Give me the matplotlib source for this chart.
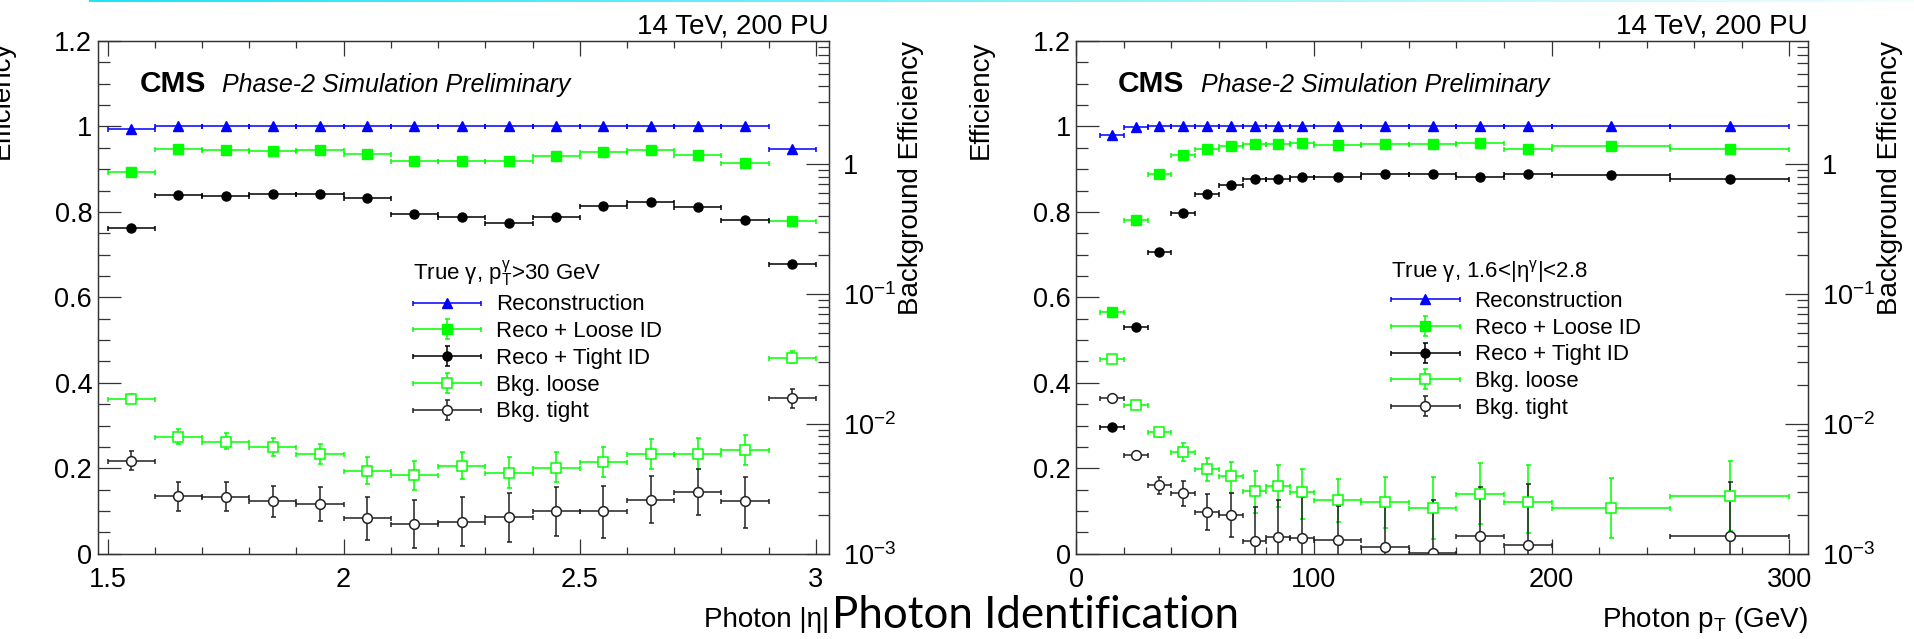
import numpy as np
import matplotlib
matplotlib.use('Agg')
import matplotlib.pyplot as plt
from matplotlib.ticker import MultipleLocator, FixedLocator, FuncFormatter, LogLocator, NullFormatter
from matplotlib.legend_handler import HandlerErrorbar
from matplotlib.container import ErrorbarContainer

plt.rcParams['font.family'] = ['Liberation Sans', 'DejaVu Sans']
plt.rcParams['mathtext.fontset'] = 'custom'
plt.rcParams['mathtext.rm'] = 'Liberation Sans'
plt.rcParams['mathtext.it'] = 'Liberation Sans:italic'
plt.rcParams['mathtext.default'] = 'regular'

# ---- left panel: vs |eta| ----
eta_edges = [1.5, 1.6, 1.7, 1.8, 1.9, 2.0, 2.1, 2.2, 2.3, 2.4, 2.5, 2.6, 2.7, 2.8, 2.9, 3.0]
eta_reco = [0.993, 1.0, 1.0, 1.0, 1.0, 1.0, 1.0, 1.0, 1.0, 1.0, 1.0, 1.0, 1.0, 1.0, 0.948]
eta_loose = [0.894, 0.948, 0.946, 0.942, 0.944, 0.936, 0.918, 0.918, 0.920, 0.931, 0.941, 0.945, 0.933, 0.915, 0.778]
eta_loose_err = [0.004, 0.004, 0.004, 0.004, 0.004, 0.004, 0.004, 0.004, 0.004, 0.004, 0.004, 0.004, 0.004, 0.004, 0.005]
eta_tight = [0.763, 0.839, 0.837, 0.842, 0.843, 0.833, 0.796, 0.787, 0.773, 0.789, 0.814, 0.823, 0.812, 0.782, 0.678]
eta_tight_err = [0.004, 0.004, 0.004, 0.004, 0.004, 0.004, 0.004, 0.004, 0.004, 0.004, 0.004, 0.004, 0.004, 0.004, 0.005]
eta_bkg_loose = [0.0156, 0.00798, 0.00731, 0.00665, 0.00588, 0.0043, 0.00407, 0.00478, 0.00422, 0.00459, 0.00508, 0.00588, 0.00588, 0.00634, 0.0324]
eta_bkg_loose_hi = [0.0170, 0.00921, 0.00848, 0.00785, 0.00706, 0.00554, 0.00519, 0.00612, 0.00554, 0.00612, 0.00665, 0.00762, 0.00782, 0.00828, 0.0367]
eta_bkg_loose_lo = [0.0144, 0.00702, 0.00638, 0.00567, 0.0049, 0.00344, 0.0031, 0.00375, 0.00318, 0.00354, 0.00389, 0.00451, 0.00449, 0.00486, 0.0293]
eta_bkg_tight = [0.00519, 0.00276, 0.00275, 0.00253, 0.00243, 0.00188, 0.0017, 0.00175, 0.00193, 0.00212, 0.00212, 0.0026, 0.003, 0.00254, 0.0158]
eta_bkg_tight_hi = [0.00623, 0.00354, 0.00354, 0.00332, 0.00324, 0.00271, 0.0026, 0.00271, 0.00293, 0.00324, 0.0033, 0.00398, 0.00449, 0.00389, 0.0187]
eta_bkg_tight_lo = [0.00438, 0.00215, 0.00213, 0.00191, 0.0018, 0.00128, 0.0011, 0.00115, 0.00124, 0.00137, 0.00132, 0.00172, 0.002, 0.00157, 0.0132]

# ---- right panel: vs pT ----
pt_edges = [10, 20, 30, 40, 50, 60, 70, 80, 90, 100, 120, 140, 160, 180, 200, 250, 300]
pt_reco = [0.979, 0.998, 1.0, 1.0, 1.0, 1.0, 1.0, 1.0, 1.0, 1.0, 1.0, 1.0, 1.0, 1.0, 1.0, 1.0]
pt_loose = [0.566, 0.781, 0.889, 0.934, 0.948, 0.955, 0.958, 0.959, 0.961, 0.957, 0.958, 0.958, 0.961, 0.948, 0.954, 0.947]
pt_loose_err = [0.006, 0.006, 0.005, 0.004, 0.004, 0.004, 0.004, 0.004, 0.004, 0.003, 0.003, 0.003, 0.003, 0.003, 0.003, 0.003]
pt_tight = [0.296, 0.530, 0.706, 0.798, 0.841, 0.863, 0.876, 0.876, 0.881, 0.881, 0.889, 0.889, 0.881, 0.889, 0.887, 0.876]
pt_tight_err = [0.006, 0.006, 0.005, 0.005, 0.004, 0.004, 0.004, 0.004, 0.004, 0.003, 0.003, 0.003, 0.003, 0.003, 0.003, 0.003]
pt_bkg_loose = [0.0318, 0.01407, 0.00863, 0.00612, 0.00453, 0.00398, 0.00305, 0.00334, 0.00298, 0.00257, 0.00251, 0.00226, 0.00288, 0.0025, 0.00225, 0.00279]
pt_bkg_loose_hi = [0.034, 0.0151, 0.00938, 0.0071, 0.00545, 0.00507, 0.0043, 0.00481, 0.00451, 0.00375, 0.00393, 0.00393, 0.00499, 0.00484, 0.00382, 0.00519]
pt_bkg_loose_lo = [0.0296, 0.01304, 0.00791, 0.00522, 0.00365, 0.00296, 0.00206, 0.00229, 0.00186, 0.00175, 0.00157, 0.0013, 0.0017, 0.00144, 0.00132, 0.0015]
pt_bkg_tight = [0.0158, 0.00574, 0.00337, 0.00291, 0.0021, 0.002, 0.00126, 0.00134, 0.00131, 0.00128, 0.00112, 0.00102, 0.00137, 0.00117, np.nan, 0.00137]
pt_bkg_tight_hi = [0.0165, 0.006, 0.00393, 0.0036, 0.00289, 0.00296, 0.00229, 0.0026, 0.00271, 0.00232, 0.00234, 0.0026, 0.00326, 0.00344, np.nan, 0.00354]
pt_bkg_tight_lo = [0.015, 0.0055, 0.00288, 0.00234, 0.00153, 0.00134, 0.0008, 0.0008, 0.0008, 0.0008, 0.0008, 0.0008, 0.0008, 0.0008, np.nan, 0.0008]

labels = ['Reconstruction', 'Reco + Loose ID', 'Reco + Tight ID', 'Bkg. loose', 'Bkg. tight']

BLUE = '#0000ff'
GREEN = '#00ff00'
BLACK = '#000000'
AXCOL = '#333333'

W, H = 1915, 639
fig = plt.figure(figsize=(W / 100, H / 100), dpi=100)

# thin cyan line at the top of the slide
strip = fig.add_axes([89 / W, 1 - 2 / H, 1 - 89 / W, 2 / H])
grad = np.zeros((1, 256, 4))
grad[0, :, 0] = 0.1
grad[0, :, 1] = 0.9
grad[0, :, 2] = 0.96
grad[0, :, 3] = np.linspace(1.0, 0.05, 256)
strip.imshow(grad, aspect='auto', extent=[0, 1, 0, 1])
strip.axis('off')

ekw = dict(linestyle='none', lw=1.1, elinewidth=1.1, capsize=1.8, capthick=1.1)


class FixedLabels(FuncFormatter):
    def __init__(self):
        names = {-3: '$10^{-3}$', -2: '$10^{-2}$', -1: '$10^{-1}$', 0: '1'}
        super().__init__(lambda v, p: names.get(int(round(np.log10(v))), ''))


def draw_panel(rect, edges, reco, loose, loose_err, tight, tight_err,
               bl, bl_hi, bl_lo, bt, bt_hi, bt_lo, xlim, xmajor, xminor,
               xlabel, header):
    edges = np.array(edges, dtype=float)
    x = 0.5 * (edges[:-1] + edges[1:])
    xe = 0.5 * (edges[1:] - edges[:-1])

    ax = fig.add_axes(rect)
    ax2 = ax.twinx()

    h1 = ax.errorbar(x, reco, xerr=xe, fmt='^', color=BLUE, ms=6.5, **ekw)
    h2 = ax.errorbar(x, loose, xerr=xe, yerr=loose_err, fmt='s', color=GREEN, ms=6.5, **ekw)
    h3 = ax.errorbar(x, tight, xerr=xe, yerr=tight_err, fmt='o', color=BLACK, ms=6.5, **ekw)

    bl = np.array(bl); bt = np.array(bt)
    el = [bl - np.array(bl_lo), np.array(bl_hi) - bl]
    et = [bt - np.array(bt_lo), np.array(bt_hi) - bt]
    h4 = ax2.errorbar(x, bl, xerr=xe, yerr=el, fmt='s', color=GREEN, mfc='white',
                      mec=GREEN, mew=1.1, ms=7, **ekw)
    h5 = ax2.errorbar(x, bt, xerr=xe, yerr=et, fmt='o', color='#222222', mfc='white',
                      mec='#222222', mew=1.1, ms=7, **ekw)

    ax.set_xlim(*xlim)
    ax.set_ylim(0, 1.2)
    ax2.set_yscale('log')
    ax2.set_ylim(1e-3, 8.91)

    ax.xaxis.set_major_locator(MultipleLocator(xmajor))
    ax.xaxis.set_minor_locator(MultipleLocator(xminor))
    ax.yaxis.set_major_locator(MultipleLocator(0.2))
    ax.yaxis.set_minor_locator(MultipleLocator(0.05))
    ax.xaxis.set_major_formatter(FuncFormatter(lambda v, p: '%g' % round(v, 3)))
    ax.yaxis.set_major_formatter(FuncFormatter(lambda v, p: '%g' % round(v, 3)))

    ax2.yaxis.set_major_locator(FixedLocator([1e-3, 1e-2, 1e-1, 1]))
    ax2.yaxis.set_major_formatter(FixedLabels())
    ax2.yaxis.set_minor_locator(LogLocator(base=10, subs=np.arange(2, 10)))
    ax2.yaxis.set_minor_formatter(NullFormatter())

    for a in (ax, ax2):
        for s in a.spines.values():
            s.set_color(AXCOL)
            s.set_linewidth(0.9)
    ax.tick_params(axis='x', which='major', direction='in', length=10.5, width=0.9,
                   top=True, bottom=True, color=AXCOL, labelsize=19.5, pad=9.4)
    ax.tick_params(axis='x', which='minor', direction='in', length=5, width=0.9,
                   top=True, bottom=True, color=AXCOL)
    ax.tick_params(axis='y', which='major', direction='in', length=16.5, width=0.9,
                   left=True, right=False, color=AXCOL, labelsize=19.5, pad=4)
    ax.tick_params(axis='y', which='minor', direction='in', length=8.4, width=0.9,
                   left=True, right=False, color=AXCOL)
    ax2.tick_params(axis='y', which='major', direction='in', length=16.5, width=0.9,
                    color=AXCOL, labelsize=19.5, pad=10)
    ax2.tick_params(axis='y', which='minor', direction='in', length=8, width=0.9,
                    color=AXCOL)

    axw = rect[2] * W
    axh = rect[3] * H
    ax.set_xlabel(xlabel, loc='right', fontsize=20)
    ax.xaxis.set_label_coords(1.0, -73.3 / axh)
    ax.xaxis.label.set_verticalalignment('baseline')
    ax.set_ylabel('Efficiency', loc='top', fontsize=20)
    ax.yaxis.set_label_coords(-83 / axw, 1.0)
    ax2.set_ylabel('Background Efficiency', loc='top', fontsize=20)
    ax2.yaxis.set_label_coords(1 + 69.3 / axw, 1.0)

    ax.text(1.0, 1 + 7.3 / axh, '14 TeV, 200 PU', transform=ax.transAxes,
            ha='right', va='baseline', fontsize=20)
    ax.text(41.6 / axw, (553.7 - 91.7) / axh, 'CMS', transform=ax.transAxes,
            ha='left', va='baseline', fontsize=21.5, fontweight='bold')
    ax.text(124.4 / axw, (553.7 - 91.7) / axh, 'Phase-2 Simulation Preliminary',
            transform=ax.transAxes, ha='left', va='baseline', fontsize=18,
            fontstyle='italic')

    ax2.legend([h1, h2, h3, h4, h5], labels, loc='upper left',
               bbox_to_anchor=(0.4305, 0.5765), frameon=False, fontsize=16,
               title=header, title_fontsize=16, alignment='left',
               handlelength=3.08, handletextpad=0.675, labelspacing=0.26,
               borderpad=0, borderaxespad=0,
               handler_map={ErrorbarContainer: HandlerErrorbar(xerr_size=1.54, yerr_size=0.45)})
    return ax, ax2


draw_panel([97.7 / W, 85.3 / H, 731.3 / W, 512.7 / H], eta_edges,
           eta_reco, eta_loose, eta_loose_err, eta_tight, eta_tight_err,
           eta_bkg_loose, eta_bkg_loose_hi, eta_bkg_loose_lo,
           eta_bkg_tight, eta_bkg_tight_hi, eta_bkg_tight_lo,
           (1.479, 3.028), 0.5, 0.1, 'Photon |η|', 'True γ, p$_T^γ$>30 GeV')

draw_panel([1076.3 / W, 85.3 / H, 731.4 / W, 512.7 / H], pt_edges,
           pt_reco, pt_loose, pt_loose_err, pt_tight, pt_tight_err,
           pt_bkg_loose, pt_bkg_loose_hi, pt_bkg_loose_lo,
           pt_bkg_tight, pt_bkg_tight_hi, pt_bkg_tight_lo,
           (0, 307.8), 100, 20, 'Photon p$_T$ (GeV)', 'True γ, 1.6<|η$^γ$|<2.8')

fig.text(831.7 / W, 11 / H, 'Photon Identification', family=['Lato', 'DejaVu Sans'],
         fontsize=31.5, ha='left', va='baseline', color='black')

fig.savefig('out.png', dpi=100, facecolor='white')
